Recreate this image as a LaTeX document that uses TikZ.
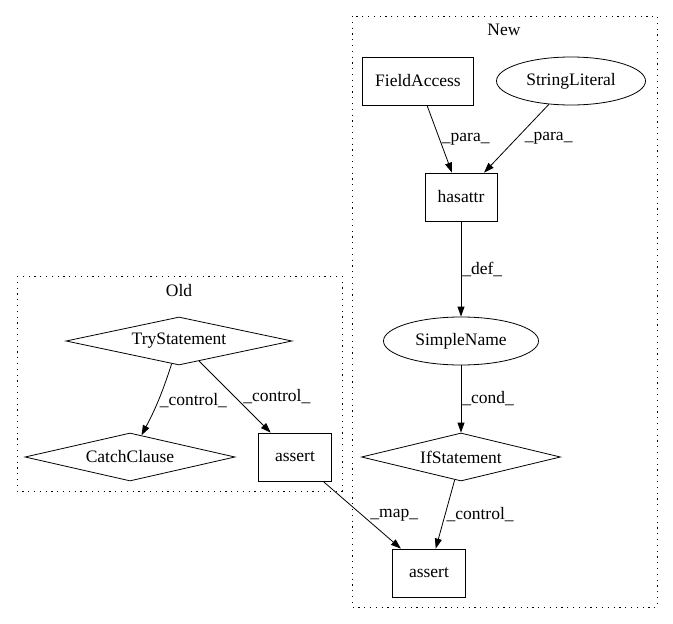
\documentclass[tikz,border=0pt]{standalone}
\usepackage{fontspec}
\setmainfont{Liberation Serif}
\usetikzlibrary{arrows.meta,shapes.geometric}
\tikzset{
	box/.style={draw, rectangle, minimum height=48pt, inner sep=0pt, line width=0.8pt},
	oval/.style={draw, ellipse, minimum height=48pt, inner sep=0pt, line width=0.8pt},
	cond/.style={draw, diamond, aspect=6, minimum height=48pt, inner sep=0pt, line width=0.8pt},
	flow/.style={-{Triangle[length=10pt,width=7pt]}, line width=0.8pt},
	elab/.style={anchor=west, inner sep=2pt},
	group/.style={line width=0.9pt, dash pattern=on 1.2pt off 4.6pt},
}

\begin{document}
\begin{tikzpicture}[x=1pt, y=-1pt, font=\fontsize{17.5}{20}\selectfont]
		%%%%% START %%%%%
		
		\useasboundingbox (0, 0) rectangle (673, 624);
		
		\draw[group] (352, 16) rectangle (657, 607);
		\node (newlbl) at (504, 30) {New};
		\draw[group] (17, 276) rectangle (342, 491);
		\node (oldlbl) at (179, 291) {Old};
		
		\node[box, minimum width=111pt] (fieldaccess) at (418, 81) {FieldAccess};
		\node[oval, minimum width=149pt] (stringlit) at (571, 81) {StringLiteral};
		\node[box, minimum width=72pt] (hasattr) at (461, 197) {hasattr};
		\node[oval, minimum width=155pt] (simplename) at (461, 341) {SimpleName};
		\node[cond, minimum width=199pt] (ifstmt) at (461, 457) {IfStatement};
		\node[box, minimum width=73pt] (assertnew) at (429, 573) {assert};
		
		\node[cond, minimum width=226pt] (trystmt) at (179, 341) {TryStatement};
		\node[cond, minimum width=210pt] (catch) at (130, 457) {CatchClause};
		\node[box, minimum width=73pt] (assertold) at (295, 457) {assert};
		
		\draw[flow] (fieldaccess) -- node[elab] {\_para\_} (hasattr);
		\draw[flow] (stringlit) -- node[elab, xshift=6pt] {\_para\_} (hasattr);
		\draw[flow] (hasattr) -- node[elab, inner sep=1pt] {\_def\_} (simplename);
		\draw[flow] (simplename) -- node[elab, inner sep=1pt] {\_cond\_} (ifstmt);
		\draw[flow] (ifstmt) -- node[elab, inner sep=1pt] {\_control\_} (assertnew);
		
		\draw[flow] (trystmt) to[bend left=5] node[elab, inner sep=1pt] {\_control\_} (catch);
		\draw[flow] (trystmt) -- node[elab, xshift=6pt] {\_control\_} (assertold);
		\draw[flow] (assertold) -- node[elab, xshift=6pt] {\_map\_} (assertnew);
		
		%%%%% END %%%%%
	\end{tikzpicture}
\end{document}
